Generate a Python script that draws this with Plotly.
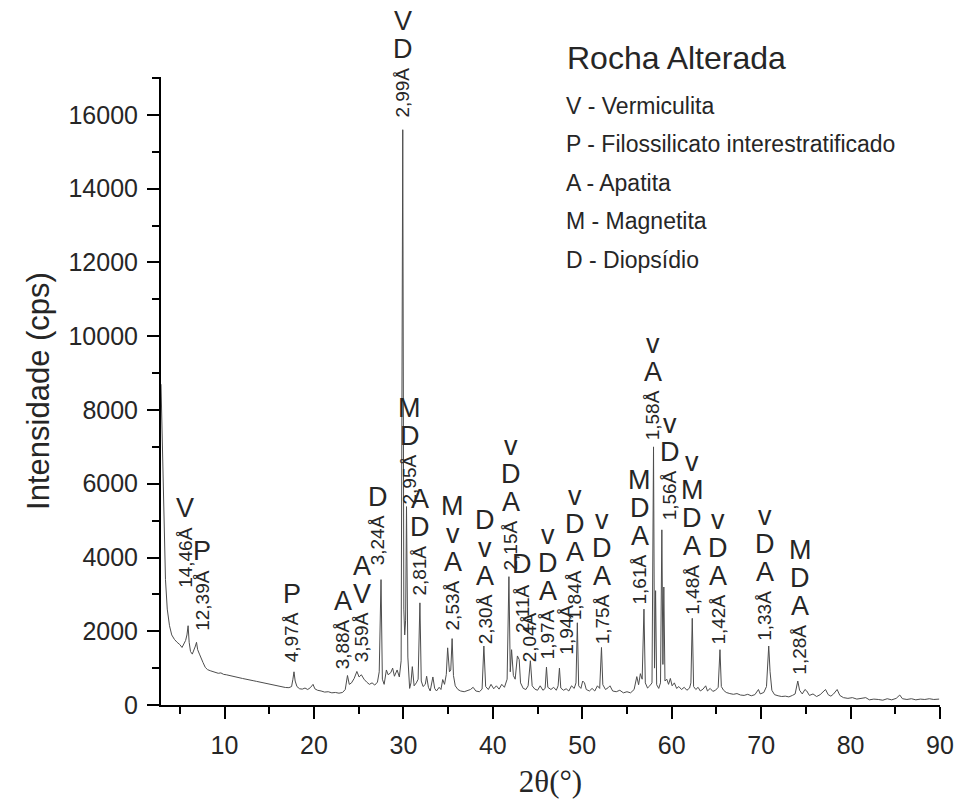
import plotly.graph_objects as go

# Diffractogram of the altered rock sample (2-theta in degrees, intensity in cps)
two_theta = [
    2.9, 3.0, 3.1, 3.25, 3.4, 3.6, 3.85, 4.1, 4.4, 4.7, 5.0, 5.25, 5.45, 5.65, 5.8, 5.93,
    6.05, 6.2, 6.4, 6.6, 6.75, 6.87, 7.0, 7.2, 7.4, 7.6, 7.85, 8.1, 8.4, 8.7, 9.0, 9.3,
    9.6, 9.9, 10.2, 10.5, 10.8, 11.1, 11.4, 11.7, 12.0, 12.4, 12.8, 13.2, 13.6, 14.0,
    14.4, 14.8, 15.2, 15.6, 16.0, 16.4, 16.8, 17.2, 17.5, 17.65, 17.77, 17.9, 18.1, 18.4,
    18.7, 19.0, 19.3, 19.6, 19.9, 20.1, 20.4, 20.8, 21.2, 21.6, 22.0, 22.4, 22.8, 23.2,
    23.5, 23.75, 23.95, 24.2, 24.5, 24.8, 25.05, 25.3, 25.6, 25.9, 26.2, 26.5, 26.8,
    27.1, 27.3, 27.5, 27.65, 27.85, 28.1, 28.3, 28.6, 28.8, 29.0, 29.3, 29.55, 29.75,
    29.93, 30.05, 30.15, 30.25, 30.35, 30.5, 30.7, 30.85, 31.0, 31.2, 31.45, 31.65,
    31.85, 32.0, 32.2, 32.45, 32.6, 32.8, 33.0, 33.3, 33.5, 33.7, 34.0, 34.2, 34.4,
    34.6, 34.8, 34.95, 35.15, 35.3, 35.45, 35.6, 35.8, 36.1, 36.4, 36.8, 37.1, 37.5,
    37.8, 38.1, 38.5, 38.8, 39.0, 39.2, 39.5, 39.8, 40.1, 40.4, 40.7, 41.0, 41.3, 41.6,
    41.8, 41.95, 42.1, 42.3, 42.5, 42.75, 42.95, 43.1, 43.4, 43.7, 43.95, 44.2, 44.4,
    44.7, 45.0, 45.3, 45.6, 45.85, 46.0, 46.15, 46.5, 46.8, 47.1, 47.3, 47.45, 47.6,
    47.9, 48.2, 48.5, 48.8, 49.1, 49.3, 49.45, 49.6, 49.85, 50.05, 50.25, 50.45, 50.8,
    51.1, 51.4, 51.7, 51.95, 52.15, 52.3, 52.6, 52.9, 53.1, 53.4, 53.8, 54.2, 54.6,
    55.0, 55.4, 55.8, 56.1, 56.3, 56.5, 56.7, 56.9, 57.05, 57.3, 57.55, 57.8, 57.97,
    58.08, 58.2, 58.32, 58.55, 58.75, 58.9, 59.02, 59.12, 59.25, 59.45, 59.65, 59.85,
    60.05, 60.3, 60.55, 60.8, 61.1, 61.4, 61.7, 62.0, 62.15, 62.3, 62.45, 62.7, 62.95,
    63.2, 63.5, 63.8, 64.0, 64.3, 64.6, 64.9, 65.2, 65.4, 65.55, 65.8, 66.1, 66.5,
    66.9, 67.3, 67.7, 68.1, 68.5, 68.9, 69.3, 69.7, 69.9, 70.3, 70.6, 70.85, 71.0,
    71.2, 71.5, 71.9, 72.3, 72.7, 73.1, 73.5, 73.8, 74.1, 74.3, 74.6, 74.9, 75.1,
    75.4, 75.8, 76.2, 76.6, 76.9, 77.2, 77.5, 77.8, 78.1, 78.5, 78.8, 79.2, 79.7,
    80.2, 80.7, 81.2, 81.7, 82.1, 82.6, 83.1, 83.6, 84.1, 84.6, 85.1, 85.5, 85.8,
    86.3, 86.8, 87.3, 87.8, 88.3, 88.8, 89.3, 89.9,
]
intensity = [
    8700, 7600, 6000, 4500, 3400, 2600, 2150, 1900, 1780, 1700, 1640, 1560, 1650, 1750, 1900, 2150,
    1700, 1450, 1380, 1480, 1600, 1700, 1500, 1380, 1250, 1150, 1020, 960, 930, 900, 880, 860,
    870, 830, 820, 800, 790, 770, 760, 740, 720, 700, 690, 660, 640, 620,
    600, 570, 540, 520, 500, 490, 475, 470, 500, 700, 900, 650, 500, 440,
    430, 460, 420, 470, 560, 440, 400, 380, 350, 360, 330, 340, 320, 340,
    420, 800, 560, 600, 720, 910, 760, 820, 700, 620, 560, 600, 540,
    620, 900, 3400, 700, 560, 950, 820, 880, 1000, 780, 950, 760, 1200,
    15600, 2600, 1900, 2300, 5380, 1300, 450, 600, 1040, 520, 600, 700,
    2770, 650, 500, 560, 780, 480, 380, 760, 450, 380, 480, 420, 690,
    560, 830, 1550, 900, 950, 1800, 800, 520, 420, 380, 360, 380, 420,
    480, 380, 360, 430, 1600, 500, 420, 560, 440, 520, 430, 560, 480, 700,
    3480, 900, 1500, 800, 700, 1330, 1230, 600, 450, 420, 520, 1200, 520,
    430, 400, 520, 400, 450, 1030, 480, 420, 480, 400, 520, 1000, 460,
    400, 440, 380, 520, 450, 600, 2230, 520, 450, 650, 600, 420, 380,
    450, 380, 520, 450, 1560, 550, 420, 470, 520, 380, 360, 400, 330,
    360, 330, 420, 770, 550, 850, 700, 2600, 600, 460, 520, 600, 7000,
    1000, 3100, 550, 450, 600, 4750, 1100, 3200, 650, 700, 560, 720,
    520, 600, 450, 500, 420, 480, 400, 460, 600, 2350, 500, 420, 480,
    380, 430, 520, 380, 450, 370, 400, 480, 1500, 500, 400, 340, 310,
    290, 310, 270, 260, 290, 250, 280, 420, 300, 340, 500, 1600, 900,
    400, 280, 250, 230, 240, 220, 260, 300, 650, 400, 300, 420, 380,
    260, 300, 230, 280, 360, 420, 280, 240, 300, 420, 260, 200, 180,
    200, 160, 170, 200, 140, 160, 150, 130, 170, 140, 180, 270, 170,
    150, 170, 140, 160, 150, 170, 150, 160,
]

# Peak identification: d-spacing text, label position (2-theta, cps at label foot)
# and the phases assigned to each reflection, listed from bottom to top
d_labels = ["14,46Å", "12,39Å", "4,97Å", "3,88Å", "3,59Å", "3,24Å", "2,99Å", "2,95Å",
            "2,81Å", "2,53Å", "2,30Å", "2,15Å", "2,11Å", "2,04Å", "1,97Å", "1,94Å",
            "1,84Å", "1,75Å", "1,61Å", "1,58Å", "1,56Å", "1,48Å", "1,42Å", "1,33Å", "1,28Å"]
label_2theta = [5.56, 7.46, 17.53, 23.24, 25.36, 27.15, 29.94, 30.73,
                31.85, 35.54, 39.12, 42.02, 43.26, 44.15, 46.16, 48.2,
                49.17, 52.2, 56.45, 57.9, 59.8, 62.3, 65.2, 70.45, 74.35]
label_base = [3130, 1965, 1100, 910, 1100, 3730, 15870, 5380,
              2910, 1965, 1590, 3590, 1910, 1100, 1180, 1315,
              2240, 1590, 2670, 7120, 4950, 2400, 1590, 1690, 770]
label_phases = [["V"], ["P"], ["P"], ["A"], ["V", "A"], ["D"], ["D", "V"], ["D", "M"],
                ["D", "A"], ["A", "v", "M"], ["A", "v", "D"], ["A", "D", "v"], ["D"], [],
                ["A", "D", "v"], [], ["A", "D", "v"], ["A", "D", "v"], ["A", "D", "M"],
                ["A", "v"], ["D", "v"], ["A", "D", "M", "v"], ["A", "D", "v"],
                ["A", "D", "v"], ["A", "D", "M"]]

legend_title = "Rocha Alterada"
legend_items = ["V - Vermiculita", "P - Filossilicato interestratificado",
                "A - Apatita", "M - Magnetita", "D - Diopsídio"]

FONT = "Liberation Sans, Arial, sans-serif"
INK = "#262626"

# plot area in pixels, used to place free text in paper coordinates
PL, PR, PT, PB = 161, 940, 77, 705


def paper_x(px):
    return (px - PL) / (PR - PL)


def paper_y(py):
    return (PB - py) / (PB - PT)


# Arial advance widths (em) used to find where a rotated label ends
ADV = {",": 0.278, "Å": 0.667}


def text_len(s, size):
    return sum(ADV.get(c, 0.556) for c in s) * size


fig = go.Figure()
fig.add_trace(go.Scatter(
    x=two_theta, y=intensity, mode="lines",
    line=dict(color="#4d4d4d", width=1), hoverinfo="skip", showlegend=False,
))

annotations = []
LBL = 19
for txt, xv, yb, phases in zip(d_labels, label_2theta, label_base, label_phases):
    annotations.append(dict(
        x=xv, y=yb, xref="x", yref="y", text=txt, textangle=-90, showarrow=False,
        xanchor="center", yanchor="bottom", font=dict(family=FONT, size=LBL, color=INK),
    ))
    top = text_len(txt, LBL) + 2
    for k, ph in enumerate(phases):
        annotations.append(dict(
            x=xv, y=yb, xref="x", yref="y", text=ph, showarrow=False,
            xanchor="center", yanchor="middle", yshift=top + 19 + 28 * k,
            font=dict(family=FONT, size=27, color=INK),
        ))

annotations.append(dict(
    x=paper_x(565), y=paper_y(58), xref="paper", yref="paper", text=legend_title,
    showarrow=False, xanchor="left", yanchor="middle",
    font=dict(family=FONT, size=32, color=INK),
))
for i, item in enumerate(legend_items):
    annotations.append(dict(
        x=paper_x(564), y=paper_y(106 + 38.5 * i), xref="paper", yref="paper", text=item,
        showarrow=False, xanchor="left", yanchor="middle",
        font=dict(family=FONT, size=23, color=INK),
    ))

axis_common = dict(
    showline=True, linecolor="black", linewidth=2, mirror=False,
    ticks="outside", ticklen=12, tickwidth=2, tickcolor="black",
    showgrid=False, zeroline=False, tickformat="d",
    tickfont=dict(family=FONT, size=25, color=INK),
)

fig.update_layout(
    width=960, height=807,
    margin=dict(l=PL, r=960 - PR, t=PT, b=807 - PB, autoexpand=False),
    paper_bgcolor="white", plot_bgcolor="white",
    showlegend=False,
    annotations=annotations,
    xaxis=dict(
        range=[2.9, 90], tick0=0, dtick=10, ticklabelstandoff=5,
        minor=dict(dtick=5, ticklen=7, tickwidth=2, tickcolor="black", ticks="outside"),
        title=dict(text="2θ(°)", standoff=12,
                   font=dict(family="Liberation Serif, Times New Roman, serif", size=31, color=INK)),
        **axis_common,
    ),
    yaxis=dict(
        range=[0, 17030], tick0=0, dtick=2000, ticklabelstandoff=4,
        minor=dict(dtick=1000, ticklen=7, tickwidth=2, tickcolor="black", ticks="outside"),
        title=dict(text="Intensidade (cps)", standoff=10,
                   font=dict(family=FONT, size=31, color=INK)),
        **axis_common,
    ),
)

fig.write_html("out.html")
